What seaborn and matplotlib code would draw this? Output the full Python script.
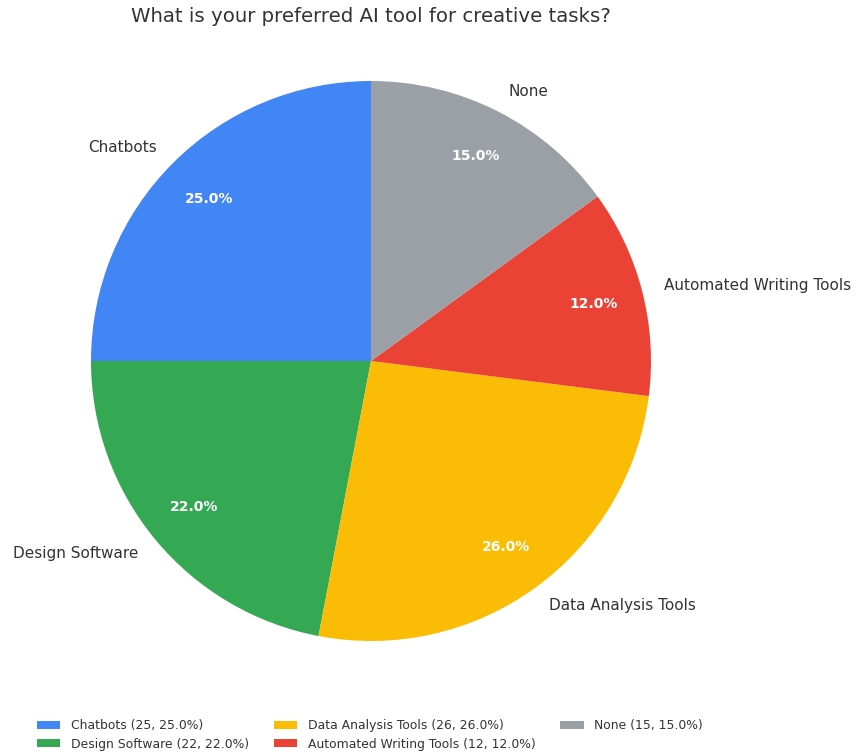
import matplotlib
matplotlib.use("Agg")
import matplotlib.pyplot as plt
import seaborn as sns

# Survey responses
categories = ["Chatbots", "Design Software", "Data Analysis Tools",
              "Automated Writing Tools", "None"]
counts = [25, 22, 26, 12, 15]
colors = ["#4285F4", "#34A853", "#FBBC05", "#EA4335", "#9AA0A6"]
title = "What is your preferred AI tool for creative tasks?"

sns.set_theme(style="white")
plt.rcParams["font.family"] = ["DejaVu Sans"]
palette = sns.color_palette(colors)

fig = plt.figure(figsize=(8.56, 7.52), dpi=100)
ax = fig.add_axes([21 / 856, 41 / 752, 700 / 856, 700 / 752])

total = sum(counts)
wedges, texts, autotexts = ax.pie(
    counts,
    labels=categories,
    colors=palette,
    startangle=90,
    counterclock=True,
    autopct="%1.1f%%",
    pctdistance=0.82,
    labeldistance=1.08,
    textprops={"fontsize": 11, "color": "#333333"},
    wedgeprops={"linewidth": 0},
)
for t in autotexts:
    t.set_color("white")
    t.set_fontweight("bold")
    t.set_fontsize(10)
ax.set_aspect("equal")

fig.text(371 / 856, 1 - 17 / 752, title, ha="center", va="center",
         fontsize=14.2, color="#333333")

legend_labels = [f"{c} ({n}, {n / total * 100:.1f}%)" for c, n in zip(categories, counts)]
fig.legend(wedges, legend_labels, loc="lower left", bbox_to_anchor=(0.03, -0.013),
           ncol=3, frameon=False, fontsize=8.9, handlelength=1.9, handleheight=0.65,
           handletextpad=0.85, columnspacing=2.0, labelspacing=0.45,
           labelcolor="#333333")

fig.savefig("out.png", dpi=100)
